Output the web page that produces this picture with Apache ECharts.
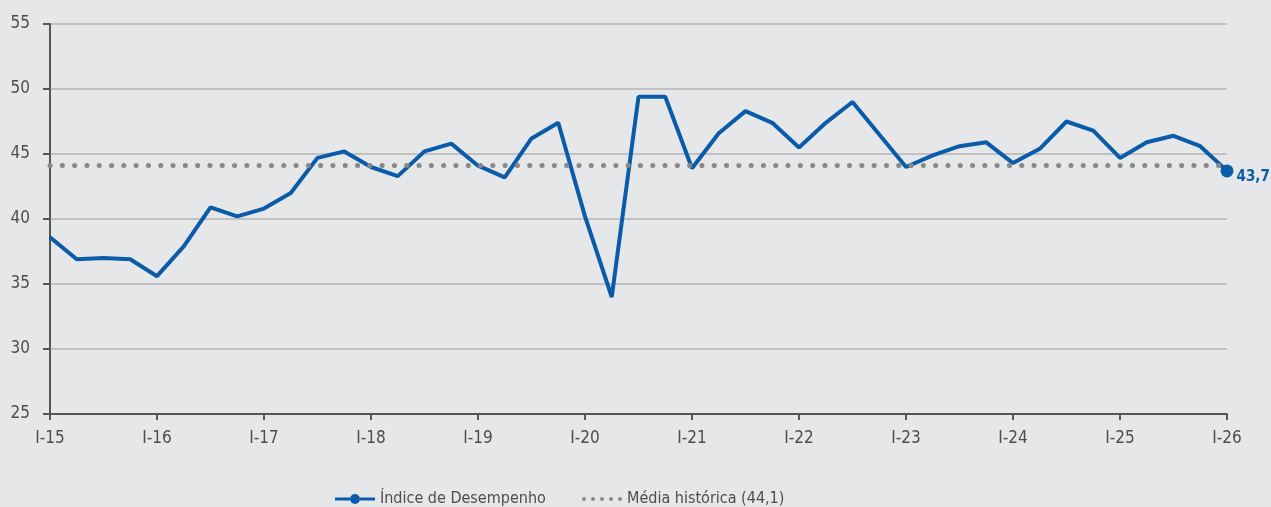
<!DOCTYPE html>
<html>
<head>
<meta charset="utf-8">
<script src="https://cdn.jsdelivr.net/npm/echarts@6/dist/echarts.min.js"></script>
<style>
  html, body { margin: 0; padding: 0; background: #e6e7e9; }
  #chart { width: 1271px; height: 507px; }
</style>
</head>
<body>
<div id="chart"></div>
<script>
var trimestres = [];
var anos = ['15','16','17','18','19','20','21','22','23','24','25'];
anos.forEach(function (a) {
    trimestres.push('I-' + a, 'II-' + a, 'III-' + a, 'IV-' + a);
});
trimestres.push('I-26');

var indice = [
    38.6, 36.9, 37.0, 36.9,
    35.6, 37.9, 40.9, 40.2,
    40.8, 42.0, 44.7, 45.2,
    44.0, 43.3, 45.2, 45.8,
    44.1, 43.2, 46.2, 47.4,
    40.2, 34.0, 49.4, 49.4,
    43.9, 46.6, 48.3, 47.4,
    45.5, 47.4, 49.0, 46.5,
    44.0, 44.9, 45.6, 45.9,
    44.3, 45.4, 47.5, 46.8,
    44.7, 45.9, 46.4, 45.6,
    43.7
];
var mediaHistorica = 44.1;

var fonte = '"Liberation Sans Narrow", "DejaVu Sans Condensed", "Roboto Condensed", sans-serif';
var azul = '#0a5ca9';
var ultimo = indice.length - 1;

var myChart = echarts.init(document.getElementById('chart'));

var option = {
    backgroundColor: '#e6e7e9',
    animation: false,
    textStyle: { fontFamily: fonte },
    grid: { left: 50, right: 44, top: 24, bottom: 93 },
    legend: [
        {
            left: 330, top: 486,
            itemWidth: 40, itemHeight: 10, itemGap: 10,
            textStyle: { fontFamily: fonte, fontSize: 16, color: '#4d4d4d' },
            data: [{
                name: 'Índice de Desempenho',
                // linha com bolinha no meio
                icon: 'path://M0,3.5h15v3h-15z M25,3.5h15v3h-15z M15,5a5,5 0 1,0 10,0a5,5 0 1,0 -10,0'
            }]
        },
        {
            left: 577, top: 486,
            itemWidth: 40, itemHeight: 4, itemGap: 10,
            textStyle: { fontFamily: fonte, fontSize: 16, color: '#4d4d4d' },
            data: [{
                name: 'Média histórica (44,1)',
                icon: 'path://M0,2a2,2 0 1,0 4,0a2,2 0 1,0 -4,0 M9,2a2,2 0 1,0 4,0a2,2 0 1,0 -4,0 M18,2a2,2 0 1,0 4,0a2,2 0 1,0 -4,0 M27,2a2,2 0 1,0 4,0a2,2 0 1,0 -4,0 M36,2a2,2 0 1,0 4,0a2,2 0 1,0 -4,0',
                itemStyle: { color: '#888888' }
            }]
        }
    ],
    xAxis: {
        type: 'category',
        boundaryGap: false,
        data: trimestres,
        axisLine: { lineStyle: { color: '#555555', width: 2 } },
        axisTick: { interval: 3, length: 6, lineStyle: { color: '#555555', width: 2 } },
        axisLabel: {
            interval: 3,
            margin: 16,
            fontSize: 17,
            color: '#4d4d4d',
            fontFamily: fonte
        },
        splitLine: { show: false }
    },
    yAxis: {
        type: 'value',
        min: 25,
        max: 55,
        interval: 5,
        axisLine: { show: true, lineStyle: { color: '#555555', width: 2 } },
        axisTick: { show: true, length: 7, lineStyle: { color: '#555555', width: 2 } },
        axisLabel: { margin: 20, fontSize: 17, color: '#4d4d4d', fontFamily: fonte },
        splitLine: { lineStyle: { color: '#b4b4b4', width: 1.5 } }
    },
    series: [
        {
            name: 'Média histórica (44,1)',
            type: 'line',
            data: [],
            itemStyle: { color: '#888888' },
            markLine: {
                silent: true,
                symbol: 'none',
                label: { show: false },
                lineStyle: { color: '#888888', width: 5, type: [0.1, 12.2], cap: 'round' },
                data: [{ yAxis: mediaHistorica }]
            }
        },
        {
            name: 'Índice de Desempenho',
            type: 'line',
            data: indice,
            z: 3,
            symbol: 'circle',
            symbolSize: function (v, p) { return p.dataIndex === ultimo ? 13 : 0; },
            showAllSymbol: true,
            itemStyle: { color: azul },
            lineStyle: { color: azul, width: 4 },
            label: {
                show: true,
                position: 'right',
                distance: 3,
                offset: [0, 6],
                fontFamily: fonte,
                fontSize: 15,
                fontWeight: 'bold',
                color: azul,
                formatter: function (p) {
                    return p.dataIndex === ultimo ? String(p.value).replace('.', ',') : '';
                }
            }
        }
    ]
};

option && myChart.setOption(option);
</script>
</body>
</html>
